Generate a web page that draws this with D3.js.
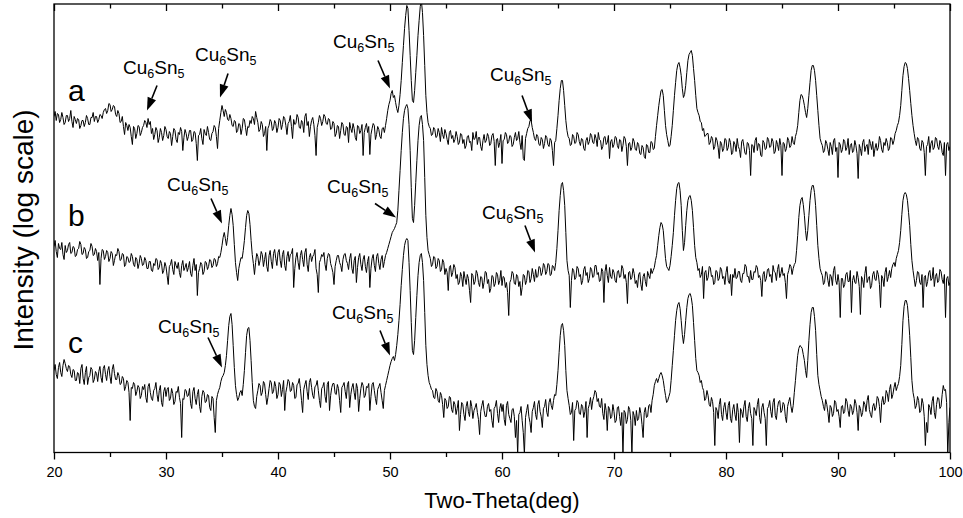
<!DOCTYPE html>
<html>
<head>
<meta charset="utf-8">
<script src="https://cdn.jsdelivr.net/npm/d3@7"></script>
<style>
  body { margin: 0; background: #fff; }
  svg { display: block; }
  text { font-family: "Liberation Sans", Arial, sans-serif; fill: #000; }
</style>
</head>
<body>
<div id="chart"></div>
<script>
// two-theta grid of the scans, 20..100 deg, 0.1 deg per point
const thetaStart = 20, thetaStep = 0.1
const twoTheta = d3.range(0, 801).map(i => +(thetaStart + i * thetaStep).toFixed(1))

// intensity (log, arbitrary units), 40 points per line = 4 deg
const traceA = [
  14,19,10,17,16,8,11,18,13,6,8,15,15,9,12,20,9,3,14,11,7,12,11,2,5,10,10,4,8,15,12,6,6,13,13,18,9,14,14,8,
  11,16,15,12,18,21,22,17,20,27,26,19,21,25,24,16,14,20,17,8,9,14,4,-4,8,5,0,6,3,-6,-14,4,2,-8,-3,5,4,-5,-2,3,
  5,10,8,3,12,6,9,-3,2,-9,-4,3,0,-12,-7,2,-2,-10,-5,4,1,-6,-8,-1,-3,-15,-6,2,0,-9,-12,-2,-4,3,-1,-20,-7,1,-3,-10,
  -6,0,0,-11,-9,-1,-2,-13,-30,-5,-4,2,-8,-14,1,-3,-5,4,-2,-9,-10,-3,-1,5,3,-6,-18,2,10,18,25,20,14,21,18,11,10,16,12,5,
  4,10,9,-2,0,7,6,-4,2,12,11,3,-5,4,3,10,7,14,12,6,19,13,8,-1,1,9,6,-6,-3,4,-20,2,5,11,9,0,2,10,7,-2,
  3,12,10,1,6,14,12,5,-4,7,9,15,4,-8,11,6,7,16,13,3,2,10,8,-2,14,17,5,9,-6,4,10,13,6,-5,-25,3,8,15,12,5,
  9,16,14,7,6,12,11,1,2,9,7,-6,-3,5,4,-8,0,8,6,-4,-5,4,3,-12,8,2,-2,7,2,-7,-10,5,4,-3,0,6,-25,-2,3,7,
  -2,4,-24,-4,2,7,5,-9,-4,4,1,-6,-8,2,3,-2,5,12,20,26,30,37,40,33,35,28,22,18,25,36,50,68,85,102,115,125,122,100,75,50,
  30,28,40,58,75,95,110,124,130,118,95,65,35,18,8,4,2,-5,-4,3,1,-7,-6,2,-2,-11,3,-4,-8,1,-3,-9,-14,-2,0,-8,-5,-12,-9,-1,
  -6,-14,-12,-3,-4,-13,-9,-18,-15,-6,-5,-12,-11,-20,-2,-9,-8,-1,-14,-7,-7,-16,-20,-10,-4,-12,-10,-3,-6,-15,-13,-5,-3,-11,-35,-9,-8,-17,-12,-4,
  -33,-10,-9,-2,-4,-13,-11,-5,-6,-16,-14,-7,-2,-10,-8,-1,-12,-19,-5,-28,-30,-8,-3,2,4,10,10,3,-2,-8,-10,-4,-6,-14,-15,-7,-9,-18,-13,-5,
  -7,-14,-16,-8,-10,-20,-35,-12,-10,2,15,30,42,50,50,40,25,10,0,-6,-8,-15,-14,-4,-6,-13,-12,-2,-4,-11,-15,-8,-9,-18,-20,-10,-7,-14,-11,-3,
  -5,-12,-13,-4,-8,-16,-2,-9,-10,-19,-16,-7,-6,-14,-12,-5,-28,-11,-9,-17,-14,-6,-7,-15,-18,-9,-10,-21,-15,-6,-8,-16,-35,-13,-12,-20,-17,-8,-11,-19,
  -20,-12,-14,-23,-24,-15,-17,-26,-28,-14,-15,-22,-22,-11,-12,-19,-18,-6,5,15,25,33,40,41,35,20,5,-4,-10,-16,-15,-6,5,20,35,48,60,66,68,63,
  55,42,33,36,45,58,70,76,78,80,75,62,50,35,22,18,15,9,8,0,2,-6,-5,-3,-3,-14,-12,-6,-8,-19,-16,-7,-10,-17,-28,-11,-13,-21,-18,-8,
  -9,-20,-17,-8,-12,-24,-22,-11,-14,-21,-8,-16,-19,-27,-11,-9,-16,-23,-24,-12,-13,-20,-45,-14,-15,-22,-10,-7,-20,-13,-14,-25,-26,-10,-12,-19,-18,-7,-9,-17,
  -16,-8,-11,-23,-21,-10,-14,-20,-8,-15,-45,-12,-13,-21,-18,-7,-10,-17,-15,-6,-12,-14,-6,-2,5,18,30,36,35,31,25,18,13,22,35,48,60,65,65,60,
  50,35,20,5,-8,-12,-15,-22,-20,-10,-13,-19,-25,-12,-16,-24,-10,-8,-21,-17,-47,-12,-14,-22,-19,-9,-11,-20,-17,-8,-24,-15,-13,-22,-20,-10,-15,-23,-48,-14,
  -18,-25,-12,-9,-21,-16,-14,-24,-9,-13,-19,-11,-26,-18,-13,-20,-17,-6,-10,-19,-22,-12,-15,-8,-12,-20,-18,-7,-8,-14,-10,-3,0,5,8,15,25,40,55,64,
  68,67,62,52,40,27,15,5,-3,-10,-15,-7,-9,-18,-20,-10,-12,-22,-45,-16,-14,-6,-22,-13,-10,-19,-17,-7,-8,-16,-19,-10,-13,-22,-25,-12,-45,-14,-12,-20,
  -16
]
const traceB = [
  16,22,11,5,19,14,13,20,8,3,17,10,12,18,20,9,10,16,15,6,7,13,14,21,18,8,9,15,13,4,5,11,12,19,16,7,8,14,11,2,
  10,-22,4,13,12,3,6,12,10,1,4,11,9,-3,2,8,7,14,11,2,3,9,8,-4,-2,6,5,0,1,9,6,-2,-4,5,3,-6,-1,7,4,-3,
  -2,5,2,-6,-6,1,1,-8,-9,-1,-3,4,3,-7,-5,2,-1,-11,-8,0,-4,-13,-22,-4,-2,3,-7,-12,1,-3,-6,0,-10,-15,-3,2,-8,-5,-1,-9,
  -5,1,-11,-14,-3,4,-8,-2,-33,-10,-6,0,-2,-12,-9,1,0,-7,-4,3,2,-5,-3,4,3,-4,-1,6,5,10,17,25,30,24,17,25,37,47,54,48,
  37,18,0,-10,-18,-6,0,5,4,12,22,35,47,52,49,38,22,8,-1,-12,0,9,6,-3,2,11,8,-4,3,10,-4,-9,7,12,1,-6,9,13,4,-3,
  10,13,2,-5,8,12,-3,-8,6,11,1,8,9,14,-25,-6,5,10,0,-7,7,12,3,-4,10,14,-2,-9,5,9,1,6,8,13,-6,-12,-30,0,3,8,
  6,10,-2,-8,4,9,8,-1,-5,-10,-22,-4,2,7,7,0,-3,-9,3,8,9,2,-1,-7,4,9,-6,-11,2,6,-20,-5,5,9,-2,-8,3,7,-4,-10,
  1,6,-25,-6,4,8,-3,-9,6,9,-1,-7,3,7,-5,1,7,10,14,18,22,26,30,32,34,37,40,52,72,92,112,130,144,152,156,158,154,138,112,75,
  44,40,57,80,102,122,137,145,147,138,122,85,47,25,12,8,4,-4,-2,6,5,-6,-4,4,2,-9,-7,3,0,-12,-6,-10,-28,-5,-3,-14,-10,-2,-5,-16,
  -12,-22,-20,-10,-14,-24,-9,-16,-22,-12,-16,-28,-40,-11,-13,-22,-19,-8,-11,-20,-24,-14,-15,-26,-20,-9,-10,-21,-17,-30,-26,-13,-14,-24,-21,-10,-12,-22,-18,-8,
  -23,-14,-15,-25,-20,-30,-53,-20,-17,-9,-11,-21,-22,-12,-14,-24,-19,-33,-25,-12,-13,-22,-18,-8,-9,-20,-16,-6,-12,-19,-7,-15,-14,-4,-5,-13,-10,-1,-3,-12,
  -9,-1,-2,-13,-12,-3,-4,-8,0,14,32,52,67,78,80,72,57,30,2,-8,-13,-45,-18,-6,-8,-17,-15,-4,-6,-14,-12,-22,-18,-7,-4,-13,-10,-20,-16,-5,
  -7,-15,-14,-3,-3,-12,-10,-19,-18,-6,-9,-40,-9,-2,-13,-20,-5,-14,-16,-7,-10,-18,-20,-9,-8,-15,-14,-3,-6,-16,-12,-20,-41,-10,-9,-17,-15,-6,-11,-21,
  -18,-25,-12,-10,-22,-28,-14,-11,-19,-24,-9,-13,-16,-6,-11,-8,-5,2,7,17,27,35,40,38,32,18,4,-4,-6,-8,-3,6,17,30,47,62,74,79,80,72,
  57,32,12,20,37,52,62,66,67,62,52,35,17,5,0,-8,-6,-15,-12,-4,-36,-10,-8,-18,-15,-4,-5,-14,-13,-22,-20,-8,-9,-18,-16,-5,-7,-16,-14,-22,
  -10,-4,-18,-21,-12,-33,-12,-15,-6,-16,-15,-9,-9,-18,-20,-11,-11,-2,-4,-14,-14,-20,-8,-17,-17,-9,-10,-3,-5,-15,-13,-18,-34,-12,-9,-19,-16,-7,-6,-14,
  -12,-20,-3,-9,-10,-18,-7,-2,-15,-11,-5,-13,-11,-20,-36,-12,-8,-2,-4,-12,-6,-2,0,12,27,45,57,63,65,58,47,32,22,32,47,62,72,77,77,70,
  57,37,17,4,-6,-10,-13,-22,-20,-9,-10,-18,-24,-12,-14,-23,-8,-4,-18,-22,-12,-20,-55,-16,-16,-25,-22,-12,-10,-19,-19,-8,-50,-18,-13,-20,-21,-9,-15,-24,
  -52,-14,-17,-25,-11,-4,-20,-16,-14,-26,-23,-12,-9,-17,-18,-8,-12,-22,-45,-13,-16,-24,-10,-5,-19,-14,-8,-15,-6,-2,0,-4,4,8,12,20,32,48,62,68,
  70,68,62,50,37,18,2,-8,-16,-24,-18,-9,-10,-20,-22,-12,-45,-15,-13,-24,-19,-10,-8,-18,-16,-5,-24,-14,-11,-20,-18,-7,-9,-17,-21,-12,-55,-16,-14,-23,
  -20
]
const traceC = [
  22,28,18,14,25,30,20,16,27,33,29,24,21,27,26,18,15,23,22,12,12,20,19,9,24,28,14,8,20,26,8,15,17,25,23,10,13,21,19,11,
  21,26,15,10,24,27,18,12,22,26,16,9,23,28,19,13,13,20,17,8,9,16,14,2,6,12,10,0,-28,5,4,10,8,-3,1,7,5,-6,-3,6,
  3,8,-5,-10,6,9,0,-6,-8,2,4,10,-2,-9,2,7,-10,-14,1,5,-4,3,5,-8,-6,4,-1,-12,-9,1,0,6,-5,-11,-45,-6,-7,3,2,-4,
  -3,4,-11,-16,1,5,-6,-12,-2,3,-14,-20,-4,2,0,-10,-9,-2,-3,-15,-18,-4,-6,-25,-40,-8,-2,2,5,11,15,17,20,27,37,52,67,76,79,68,
  47,25,7,-2,-8,-5,0,2,-3,8,22,40,57,64,65,52,32,10,-8,-14,-16,-4,2,9,7,-3,0,11,9,-2,-12,-5,4,12,10,-1,1,11,6,-6,
  -2,10,8,-4,3,12,-18,0,6,13,11,1,2,10,7,-6,-5,8,9,14,4,-8,-20,3,8,12,1,-7,10,14,5,-3,-6,6,7,12,2,-8,-15,4,
  6,10,-4,-10,8,11,-18,-3,5,9,9,-1,-2,8,4,-8,-20,5,7,10,1,-6,8,11,-15,-2,5,9,0,-7,9,4,-19,-6,4,10,7,-5,-3,6,
  5,9,-18,-4,8,10,2,-6,-12,3,6,9,0,-8,-16,2,7,12,17,22,27,31,34,36,32,38,47,58,72,88,107,123,137,147,152,154,152,130,102,70,
  42,38,52,75,97,117,130,137,139,130,112,80,47,28,17,10,7,3,2,-5,-6,4,1,-8,-10,0,-3,-12,-25,-6,-8,-16,-14,-4,-5,-17,-20,-9,-12,-22,
  -16,-8,-38,-22,-10,-12,-22,-28,-14,-9,-19,-24,-8,-14,-26,-18,-15,-11,-20,-27,-42,-19,-13,-8,-18,-24,-24,-14,-11,-19,-17,-28,-35,-16,-14,-8,-21,-30,-16,-11,
  -19,-12,-27,-33,-13,-9,-22,-26,-30,-17,-16,-24,-45,-28,-62,-22,-20,-14,-28,-40,-62,-25,-18,-12,-24,-30,-40,-19,-15,-9,-22,-27,-12,-8,-19,-24,-35,-16,-14,-7,
  -20,-24,-10,-6,-13,-17,-8,-2,-3,8,22,40,57,67,69,62,47,22,2,-6,-13,-22,-20,-10,-48,-18,-16,-8,-10,-21,-22,-12,-14,-25,-19,-9,-45,-16,-12,-5,
  -17,-8,-4,2,0,-9,-6,-14,-15,-6,-21,-27,-11,-18,-38,-14,-16,-26,-24,-12,-19,-30,-28,-15,-14,-24,-33,-20,-62,-18,-20,-31,-27,-14,-17,-28,-62,-19,-23,-33,
  -18,-28,-26,-15,-21,-32,-45,-20,-15,-25,-24,-13,-12,-20,-8,-2,7,11,14,10,14,18,20,17,12,4,-3,-10,-8,-4,0,12,27,42,57,72,82,88,90,84,
  72,58,49,58,72,85,94,98,99,95,87,70,52,34,22,20,17,10,12,5,2,-8,-6,2,-3,-12,-14,-5,-9,-20,-53,-15,-18,-26,-12,-6,-22,-28,-15,-10,
  -20,-27,-13,-9,-26,-30,-17,-12,-22,-28,-11,-20,-50,-16,-19,-25,-14,-8,-24,-29,-16,-10,-21,-26,-53,-15,-18,-23,-12,-6,-25,-31,-15,-11,-20,-26,-53,-16,-14,-8,
  -19,-25,-10,-6,-23,-27,-15,-9,-8,-20,-18,-10,-12,-24,-30,-14,-9,-5,-14,-20,-13,0,12,25,37,44,47,46,44,38,32,22,15,32,52,68,80,85,85,76,
  62,38,17,8,2,-4,-8,-14,-18,-7,-12,-20,-30,-13,-15,-24,-21,-8,-10,-19,-17,-24,-35,-14,-13,-21,-19,-6,-9,-18,-24,-12,-14,-22,-18,-7,-11,-20,-38,-13,
  -16,-24,-20,-9,-12,-19,-8,-3,-17,-22,-25,-14,-11,-18,-15,-4,-6,-14,-30,-10,-4,-12,-10,2,-1,-9,3,8,-6,-2,5,10,2,6,9,16,27,48,72,86,
  92,92,87,74,57,35,12,0,-6,-16,-13,-4,-8,-20,-18,-6,-11,-24,-53,-30,-40,-12,-15,-22,-9,-4,-20,-26,-12,-5,-6,-16,-14,-2,7,2,3,-10,-62,-30,
  -15
]

const traceNames = ["a", "b", "c"]
const traceOffsets = [322, 190, 60]   // vertical stacking of the patterns
const traceLabelAt = [[21.25, 352], [21.25, 227], [21.25, 100]]

const xTicks = [20, 30, 40, 50, 60, 70, 80, 90, 100]
const xMinorTicks = [25, 35, 45, 55, 65, 75, 85, 95]

// Cu6Sn5 notes: text start (deg, level) and arrow from -> to
const notes = [
  { tx: 26.16, ty: 379, from: [29.2, 367], to: [28.3, 342] },
  { tx: 32.59, ty: 392, from: [35.54, 379], to: [34.82, 355] },
  { tx: 44.91, ty: 405, from: [48.93, 392], to: [50.0, 364] },
  { tx: 58.93, ty: 372, from: [61.79, 357], to: [62.68, 330] },
  { tx: 30.09, ty: 262, from: [34.02, 254], to: [35.0, 229] },
  { tx: 44.38, ty: 260, from: [48.66, 249], to: [50.54, 235] },
  { tx: 58.21, ty: 234, from: [62.05, 227], to: [62.95, 200] },
  { tx: 29.29, ty: 120, from: [33.75, 115], to: [35.0, 85] },
  { tx: 44.82, ty: 134, from: [49.11, 122], to: [50.0, 97] }
]
const noteParts = [["Cu", false], ["6", true], ["Sn", false], ["5", true]]

const width = 963, height = 518
const margin = { top: 4, right: 13, bottom: 65.5, left: 54 }
const plotW = width - margin.left - margin.right
const plotH = height - margin.top - margin.bottom
const fontFam = "'Liberation Sans', Arial, sans-serif"

const svg = d3.select("#chart").append("svg")
    .attr("width", width)
    .attr("height", height)

const x = d3.scaleLinear().domain([20, 100]).range([margin.left, margin.left + plotW])
const y = d3.scaleLinear().domain([0, 448]).range([margin.top + plotH, margin.top + 0.5])

svg.append("defs").append("clipPath").attr("id", "plotClip")
  .append("rect")
    .attr("x", margin.left).attr("y", margin.top)
    .attr("width", plotW).attr("height", plotH)

// traces
const traces = [traceA, traceB, traceC]
const gTraces = svg.append("g").attr("clip-path", "url(#plotClip)")
traces.forEach((vals, k) => {
  const line = d3.line()
    .x((d, i) => x(twoTheta[i]))
    .y(d => y(d + traceOffsets[k]))
  gTraces.append("path")
    .datum(vals)
    .attr("d", line)
    .attr("fill", "none")
    .attr("stroke", "#000")
    .attr("stroke-width", 1)
    .attr("stroke-linejoin", "round")
})

// axes: bottom ticks out, top ticks in
const bottomY = margin.top + plotH
const axisB = svg.append("g")
    .attr("transform", `translate(0,${bottomY})`)
    .call(d3.axisBottom(x).tickValues(xTicks).tickSize(7).tickPadding(7).tickSizeOuter(0))
axisB.attr("font-size", 14.5).attr("font-family", fontFam)
axisB.select(".domain").remove()
axisB.selectAll("line").attr("stroke-width", 1.3)
axisB.selectAll("text").attr("font-size", 14.5).style("font-size", "14.5px")

const axisBm = svg.append("g")
    .attr("transform", `translate(0,${bottomY})`)
    .call(d3.axisBottom(x).tickValues(xMinorTicks).tickSize(4.5).tickFormat(""))
axisBm.select(".domain").remove()
axisBm.selectAll("line").attr("stroke-width", 1.3)

const axisT = svg.append("g")
    .attr("transform", `translate(0,${margin.top})`)
    .call(d3.axisTop(x).tickValues(xTicks).tickSize(-7).tickFormat(""))
axisT.select(".domain").remove()
axisT.selectAll("line").attr("stroke-width", 1.3)
const axisTm = svg.append("g")
    .attr("transform", `translate(0,${margin.top})`)
    .call(d3.axisTop(x).tickValues(xMinorTicks).tickSize(-4.5).tickFormat(""))
axisTm.select(".domain").remove()
axisTm.selectAll("line").attr("stroke-width", 1.3)

svg.append("rect")
    .attr("x", margin.left).attr("y", margin.top)
    .attr("width", plotW).attr("height", plotH)
    .attr("fill", "none")
    .attr("stroke", "#000")
    .attr("stroke-width", 1.3)

// titles
svg.append("text")
    .attr("x", x(60)).attr("y", 508)
    .attr("text-anchor", "middle")
    .style("font-size", "22px")
    .text("Two-Theta(deg)")

svg.append("text")
    .attr("transform", "translate(33,230) rotate(-90)")
    .attr("text-anchor", "middle")
    .style("font-size", "28px")
    .text("Intensity (log scale)")

// a, b, c
svg.selectAll(".trace-label")
  .data(traceNames)
  .join("text")
    .attr("class", "trace-label")
    .attr("x", (d, i) => x(traceLabelAt[i][0]))
    .attr("y", (d, i) => y(traceLabelAt[i][1]))
    .style("font-size", "30px")
    .text(d => d)

// Cu6Sn5 labels with arrows
const gNotes = svg.append("g")
notes.forEach(n => {
  const t = gNotes.append("text")
      .attr("x", x(n.tx)).attr("y", y(n.ty))
      .style("font-size", "19px")
  noteParts.forEach(([s, sub], j) => {
    const prevSub = j > 0 && noteParts[j - 1][1]
    t.append("tspan")
        .attr("dy", sub ? 4 : (prevSub ? -4 : 0))
        .style("font-size", sub ? "12.5px" : "19px")
        .text(s)
  })

  const x0 = x(n.from[0]), y0 = y(n.from[1])
  const x1 = x(n.to[0]), y1 = y(n.to[1])
  const len = Math.hypot(x1 - x0, y1 - y0)
  const ux = (x1 - x0) / len, uy = (y1 - y0) / len
  const headL = 13, headW = 4.5
  const bx = x1 - ux * headL, by = y1 - uy * headL
  gNotes.append("line")
      .attr("x1", x0).attr("y1", y0)
      .attr("x2", bx).attr("y2", by)
      .attr("stroke", "#000")
      .attr("stroke-width", 1.6)
  gNotes.append("path")
      .attr("d", `M${x1},${y1}L${bx - uy * headW},${by + ux * headW}L${bx + uy * headW},${by - ux * headW}Z`)
      .attr("fill", "#000")
})
</script>
</body>
</html>
